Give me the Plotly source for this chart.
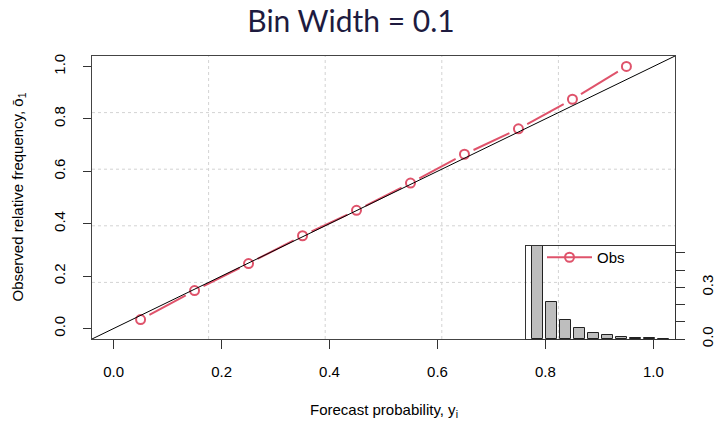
import plotly.graph_objects as go

# ---- data ----
bin_mid = [0.05, 0.15, 0.25, 0.35, 0.45, 0.55, 0.65, 0.75, 0.85, 0.95]
obs_freq = [0.034, 0.145, 0.248, 0.354, 0.451, 0.555, 0.665, 0.762, 0.875, 1.0]
hist_freq = [0.54, 0.215, 0.11, 0.064, 0.035, 0.023, 0.012, 0.007, 0.004, 0.002]
tick_vals = [0.0, 0.2, 0.4, 0.6, 0.8, 1.0]
tick_text = ["0.0", "0.2", "0.4", "0.6", "0.8", "1.0"]
inset_tick_vals = [0.0, 0.1, 0.2, 0.3, 0.4, 0.5]
inset_label_vals = [0.0, 0.3]
inset_label_text = ["0.0", "0.3"]

W, H = 717, 422
ML, MR, MT, MB = 92, 42, 56, 83
PW, PH = W - ML - MR, H - MT - MB
RANGE = [-0.04, 1.04]
span = RANGE[1] - RANGE[0]
kx, ky = PW / span, PH / span

RED = "#DF536B"
FONT = "Liberation Sans, Arial, sans-serif"

fig = go.Figure()

# broken line segments (type = "b" style)
gap = 10.0
sx, sy = [], []
for i in range(len(bin_mid) - 1):
    x0, y0, x1, y1 = bin_mid[i], obs_freq[i], bin_mid[i + 1], obs_freq[i + 1]
    dxp, dyp = (x1 - x0) * kx, (y1 - y0) * ky
    L = (dxp ** 2 + dyp ** 2) ** 0.5
    f = gap / L
    sx += [x0 + f * (x1 - x0), x1 - f * (x1 - x0), None]
    sy += [y0 + f * (y1 - y0), y1 - f * (y1 - y0), None]
fig.add_trace(go.Scatter(x=sx, y=sy, mode="lines", line=dict(color=RED, width=2),
                         showlegend=False, hoverinfo="skip"))
fig.add_trace(go.Scatter(x=bin_mid, y=obs_freq, mode="markers",
                         marker=dict(symbol="circle-open", size=9, color=RED,
                                     line=dict(width=2, color=RED)),
                         showlegend=False))
# legend entry
fig.add_trace(go.Scatter(x=[None], y=[None], mode="lines+markers", name="Obs",
                         line=dict(color=RED, width=2),
                         marker=dict(symbol="circle-open", size=9, color=RED,
                                     line=dict(width=2, color=RED))))

# inset histogram (barplot)
bar_x = [0.7 + 1.2 * i for i in range(len(hist_freq))]
fig.add_trace(go.Bar(x=bar_x, y=hist_freq, width=1.0, xaxis="x2", yaxis="y2",
                     marker=dict(color="#BEBEBE", line=dict(color="#222222", width=1)),
                     showlegend=False))

# grid (equal divisions of plotting region) and diagonal
shapes = []
for k in range(1, 5):
    g = RANGE[0] + k * span / 5
    shapes.append(dict(type="line", xref="x", yref="paper", x0=g, x1=g, y0=0, y1=1,
                       line=dict(color="#D3D3D3", width=1, dash="dot"), layer="below"))
    shapes.append(dict(type="line", xref="paper", yref="y", x0=0, x1=1, y0=g, y1=g,
                       line=dict(color="#D3D3D3", width=1, dash="dot"), layer="below"))
shapes.append(dict(type="line", xref="x", yref="y", x0=RANGE[0], y0=RANGE[0],
                   x1=RANGE[1], y1=RANGE[1], line=dict(color="black", width=1)))

inset_x0 = (526 - ML) / PW
inset_top = (MT + PH - 246) / PH
minor_vals = [v for v in inset_tick_vals if v not in inset_label_vals]

fig.update_layout(
    width=W, height=H,
    margin=dict(l=ML, r=MR, t=MT, b=MB, autoexpand=False),
    paper_bgcolor="white", plot_bgcolor="rgba(0,0,0,0)",
    font=dict(family=FONT, size=14, color="black"),
    title=dict(text="Bin Width = 0.1", x=351 / W, xanchor="center", xref="container",
               y=1 - 21 / H, yanchor="middle", yref="container",
               font=dict(family="Lato, Open Sans, sans-serif", size=30, color="#1E1B3F")),
    xaxis=dict(range=RANGE, domain=[0, 1], tickvals=tick_vals, ticktext=tick_text,
               ticks="outside", ticklen=9, tickcolor="#333", showgrid=False,
               zeroline=False, showline=True, mirror=True, linecolor="#444", linewidth=1,
               ticklabelstandoff=10, tickfont=dict(size=15), automargin=False),
    yaxis=dict(range=RANGE, domain=[0, 1], tickvals=tick_vals, ticktext=tick_text,
               ticks="outside", ticklen=8, tickcolor="#333", showgrid=False,
               zeroline=False, showline=True, mirror=True, linecolor="#444", linewidth=1,
               tickangle=-90, ticklabelstandoff=12, tickfont=dict(size=15),
               automargin=False),
    xaxis2=dict(range=[-0.272, 12.472], domain=[inset_x0, 1], anchor="y2",
                showticklabels=False, ticks="", showgrid=False, zeroline=False,
                showline=True, mirror=True, linecolor="#333", linewidth=1,
                automargin=False),
    yaxis2=dict(range=[0, 0.54], domain=[0, inset_top], anchor="x2", side="right",
                tickmode="array", tickvals=inset_label_vals, ticktext=inset_label_text,
                ticks="outside", ticklen=9, tickcolor="#333",
                minor=dict(tickmode="array", tickvals=minor_vals, ticks="outside",
                           ticklen=9, tickcolor="#333", showgrid=False),
                showgrid=False, zeroline=False,
                showline=True, mirror=True, linecolor="#333", linewidth=1,
                tickangle=-90, ticklabelstandoff=10, tickfont=dict(size=15),
                automargin=False),
    shapes=shapes,
    showlegend=True,
    legend=dict(x=(542 - ML) / PW, y=(MT + PH - 241) / PH, xanchor="left", yanchor="top",
                bgcolor="rgba(0,0,0,0)", font=dict(size=15, family=FONT),
                itemwidth=45, tracegroupgap=0),
    annotations=[
        dict(text="Forecast probability, y<sub>i</sub>", xref="paper", yref="paper",
             x=0.5, y=-(410 - MT - PH) / PH, xanchor="center", yanchor="middle",
             showarrow=False, font=dict(size=15)),
        dict(text="Observed relative frequency, ō<sub>1</sub>", xref="paper", yref="paper",
             x=-(ML - 18) / PW, y=0.5, xanchor="center", yanchor="middle", textangle=-90,
             showarrow=False, font=dict(size=15)),
    ],
    bargap=0,
)

fig.write_html("out.html")
